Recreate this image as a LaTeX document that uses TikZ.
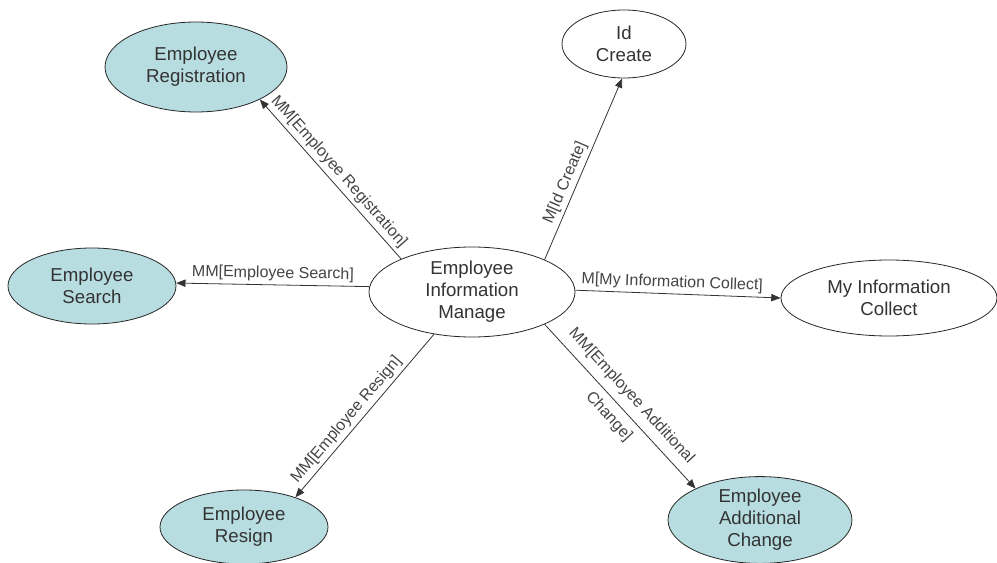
\documentclass[tikz,border=0pt]{standalone}
\usepackage{fontspec}
\setmainfont{Liberation Sans}
\usepackage{tikz}
\usetikzlibrary{arrows.meta,shapes.geometric}
\definecolor{usecasefill}{HTML}{B8DDE1}
\definecolor{usecasetext}{HTML}{333333}
\definecolor{msglabel}{HTML}{444444}

\begin{document}
\begin{tikzpicture}[x=0.75pt, y=-0.75pt,
    usecase/.style={ellipse, draw=black!85, line width=0.6pt, inner sep=0pt,
      align=center, text=usecasetext, font=\fontsize{14}{16.5}\selectfont},
    subcase/.style={usecase, fill=usecasefill},
    msg/.style={draw=black!80, line width=0.6pt, -{Triangle[length=7pt,width=5.5pt]}},
    msgtext/.style={sloped, text=msglabel, inner sep=2.5pt, align=center,
      font=\fontsize{12}{14}\selectfont}]
  \useasboundingbox (0,0) rectangle (997,563);
  % central use case
  \node[usecase, minimum width=154.5pt, minimum height=67.5pt] (eim) at (472,292)
    {Employee\\Information\\Manage};
  % surrounding use cases
  \node[subcase, minimum width=136.5pt, minimum height=67.5pt] (ereg) at (196,67)
    {Employee\\Registration};
  \node[usecase, minimum width=93pt, minimum height=51pt] (idc) at (624,44)
    {Id\\Create};
  \node[subcase, minimum width=126pt, minimum height=57pt] (esrch) at (92,286)
    {Employee\\Search};
  \node[usecase, minimum width=162pt, minimum height=57pt] (myinfo) at (889,298)
    {My Information\\Collect};
  \node[subcase, minimum width=126pt, minimum height=55.5pt] (ersgn) at (244,527)
    {Employee\\Resign};
  \node[subcase, minimum width=138pt, minimum height=64.5pt] (eadd) at (760,520)
    {Employee\\Additional\\Change};
  % messages
  \draw[msg] (eim.155) -- node[msgtext, above] {MM[Employee Registration]} (ereg.333);
  \draw[msg] (eim.24) -- node[msgtext, above, pos=0.4] {M[Id Create]} (idc.267);
  \draw[msg] (eim.177) -- node[msgtext, above] {MM[Employee Search]} (esrch.2);
  \draw[msg] (eim.1) -- node[msgtext, above, pos=0.47] {M[My Information Collect]} (myinfo.180);
  \draw[msg] (eim.228) -- node[msgtext, above, pos=0.57] {MM[Employee Resign]} (ersgn.30);
  \draw[msg] (eim.336) -- node[msgtext] {MM[Employee Additional\\[9pt]Change]} (eadd.154);
\end{tikzpicture}
\end{document}
